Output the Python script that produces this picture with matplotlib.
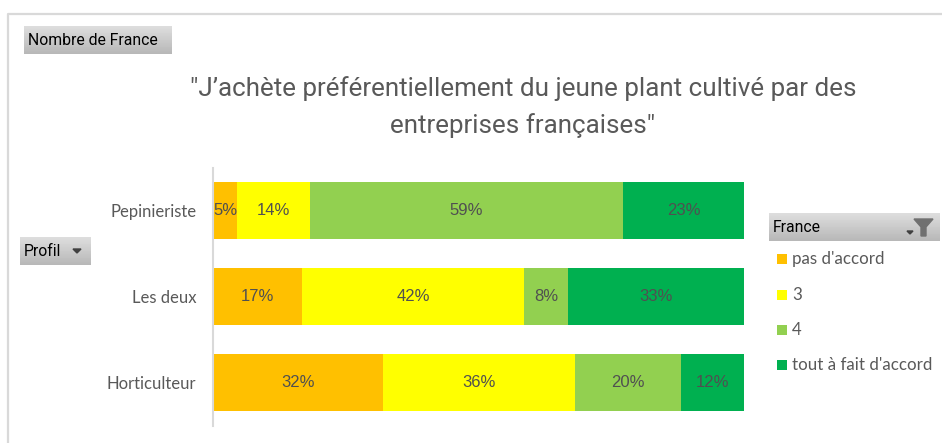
import numpy as np
import matplotlib
matplotlib.use('Agg')
import matplotlib.pyplot as plt
from matplotlib.patches import Polygon, Rectangle

# donnees
profils = ['Horticulteur', 'Les deux', 'Pepinieriste']
reponses = ['pas d\'accord', '3', '4', 'tout à fait d\'accord']
pas_accord = [32.0, 16.8, 4.6]
note_3 = [36.2, 41.8, 13.7]
note_4 = [19.9, 8.3, 58.9]
tout_a_fait = [11.9, 33.1, 22.8]
series = [pas_accord, note_3, note_4, tout_a_fait]
couleurs = ['#FFC000', '#FFFF00', '#92D050', '#00B050']
titre = '"J’achète préférentiellement du jeune plant cultivé par des\nentreprises françaises"'

W, H = 942, 443
gris = '#595959'
grad = np.linspace(0.87, 0.72, 32).reshape(-1, 1)

fig = plt.figure(figsize=(W / 100, H / 100), dpi=100, facecolor='white')

# calque en pixels pour le cadre et les boutons
ui = fig.add_axes([0, 0, 1, 1])
ui.set_xlim(0, W)
ui.set_ylim(H, 0)
ui.axis('off')


def bouton(x0, y0, x1, y1, texte):
    ui.imshow(grad, extent=[x0, x1, y1, y0], cmap='gray', vmin=0, vmax=1, aspect='auto', zorder=2)
    ui.text(x0 + 4, (y0 + y1) / 2 + 0.5, texte, fontsize=11.3, family='Roboto', color='black',
            va='center', ha='left', zorder=3)


ui.plot([8, 8, W], [H, 13.5, 13.5], color='#D9D9D9', lw=1.6, zorder=1)
bouton(24, 26, 172, 54, 'Nombre de France')
bouton(20, 237, 91, 265, 'Profil')
bouton(769, 213, 940, 241, 'France')
ui.set_xlim(0, W)
ui.set_ylim(H, 0)

# petites fleches et filtre
ui.add_patch(Polygon([(73, 249), (81, 249), (77, 253)], color='#404040', zorder=3))
ui.add_patch(Polygon([(907, 231), (913, 231), (910, 234)], color='#404040', zorder=3))
ui.add_patch(Polygon([(914, 219), (933, 219), (926, 227), (926, 236), (921, 236), (921, 227)],
                     color='#707070', zorder=3))

ui.text(523, 107, titre, fontsize=18.7, family='Roboto', color=gris, ha='center', va='center',
        linespacing=1.62)

# legende
ys = [259, 295, 330, 365]
for y, nom, c in zip(ys, reponses, couleurs):
    ui.add_patch(Rectangle((777, y - 5.5), 10, 10, color=c, lw=0))
    ui.text(792, y, nom, fontsize=12.2, family='Lato', color=gris, va='center', ha='left')

# barres
ax = fig.add_axes([213 / W, 1 - 425.5 / H, 531 / W, 258 / H])
ax.patch.set_alpha(0)
y = np.arange(len(profils))
gauche = np.zeros(len(profils))
for vals, c in zip(series, couleurs):
    barres = ax.barh(y, vals, left=gauche, height=0.665, color=c, linewidth=0)
    ax.bar_label(barres, labels=[f'{v:.0f}%' for v in vals], label_type='center',
                 fontsize=12, family='Liberation Sans', color='#505050')
    gauche += np.array(vals)

ax.set_xlim(0, 100)
ax.set_ylim(-0.5, 2.5)
ax.set_yticks(y, profils, fontsize=12, family='Lato', color=gris)
ax.tick_params(axis='y', length=0, pad=12)
ax.set_xticks([])
for s in ['top', 'right', 'bottom']:
    ax.spines[s].set_visible(False)
ax.spines['left'].set_color('#D9D9D9')
ax.spines['left'].set_linewidth(1.5)

fig.savefig('out.png', dpi=100)
